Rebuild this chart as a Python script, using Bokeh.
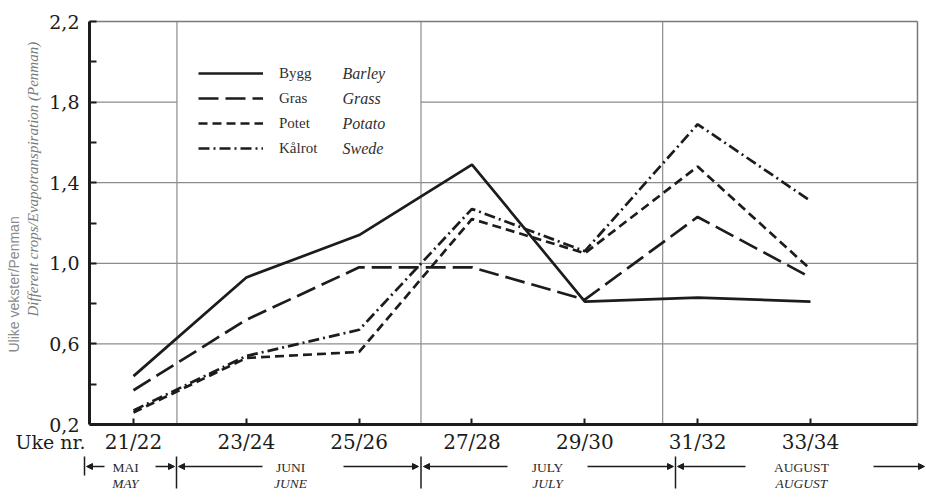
import numpy as np
from bokeh.plotting import figure
from bokeh.models import (Range1d, FixedTicker, Legend, LegendItem, Label, Arrow,
                          NormalHead, LinearAxis, CustomJSTickFormatter)
from bokeh.embed import file_html
from bokeh.resources import INLINE

# Two-week periods (week numbers) on the x axis
week_labels = ["21/22", "23/24", "25/26", "27/28", "29/30", "31/32", "33/34"]

# Crop evapotranspiration relative to Penman estimate
bygg   = [0.44, 0.93, 1.14, 1.49, 0.81, 0.83, 0.81]   # Barley
gras   = [0.37, 0.72, 0.98, 0.98, 0.82, 1.23, 0.93]   # Grass
potet  = [0.26, 0.53, 0.56, 1.22, 1.05, 1.48, 0.97]   # Potato
kalrot = [0.27, 0.54, 0.67, 1.27, 1.06, 1.69, 1.31]   # Swede

series_no = ["Bygg", "Gras", "Potet", "Kålrot"]
series_en = ["Barley", "Grass", "Potato", "Swede"]

y_ticks = [0.2, 0.6, 1.0, 1.4, 1.8, 2.2]
y_minor = [0.4, 0.8, 1.2, 1.6, 2.0]
y_grid = [0.6, 1.0, 1.4, 1.8]

# month boundaries expressed on the period axis
month_bounds = [0.385, 2.548, 4.69]
months_no = ["MAI", "JUNI", "JULY", "AUGUST"]
months_en = ["MAY", "JUNE", "JULY", "AUGUST"]

INK = "#1c1c1c"
GRID = "#8c8c8c"
W, H = 926, 498

# pixel -> data helpers (the frame spans the whole canvas; the chart box
# is 89..917 px wide and 21..424 px tall)
def fx(px):
    return (px - 133.0) / 112.83

def fy(py):
    return 0.2 + (424.0 - py) / 201.5

X_LO, X_HI = fx(89), fx(917)
Y_LO, Y_HI = 0.2, 2.2

x = list(range(len(week_labels)))

p = figure(width=W, height=H, output_backend="svg", toolbar_location=None,
           title=None, x_range=Range1d(fx(0), fx(W)), y_range=Range1d(fy(H), fy(0)),
           x_axis_location=None, y_axis_location=None, min_border=0,
           background_fill_color="white", border_fill_color="white",
           outline_line_color=None)
p.xgrid.visible = False
p.ygrid.visible = False

# left value axis
yax = LinearAxis(fixed_location=X_LO, bounds=(Y_LO, Y_HI),
                 ticker=FixedTicker(ticks=y_ticks, minor_ticks=y_minor),
                 formatter=CustomJSTickFormatter(code="return tick.toFixed(1).replace('.', ',')"))
yax.axis_line_width = 3
yax.axis_line_color = INK
yax.major_tick_in = 7
yax.major_tick_out = 0
yax.minor_tick_in = 7
yax.minor_tick_out = 0
yax.major_tick_line_width = 2
yax.minor_tick_line_width = 2
yax.major_tick_line_color = INK
yax.minor_tick_line_color = INK
yax.major_label_text_font = "DejaVu Serif"
yax.major_label_text_font_size = "19px"
yax.major_label_text_color = INK
yax.major_label_standoff = 10

# bottom period axis
xax = LinearAxis(fixed_location=Y_LO, bounds=(X_LO, X_HI),
                 ticker=FixedTicker(ticks=x, minor_ticks=[]))
xax.major_label_overrides = {i: lab for i, lab in enumerate(week_labels)}
xax.axis_line_width = 3
xax.axis_line_color = INK
xax.major_tick_in = 6
xax.major_tick_out = 0
xax.major_tick_line_width = 2
xax.major_tick_line_color = INK
xax.major_label_text_font = "DejaVu Serif"
xax.major_label_text_font_size = "20px"
xax.major_label_text_color = INK
xax.major_label_standoff = 5

# thin top and right border lines
def border_axis(loc, bounds):
    ax = LinearAxis(fixed_location=loc, bounds=bounds,
                    ticker=FixedTicker(ticks=[], minor_ticks=[]))
    ax.axis_line_color = "#7a7a7a"
    ax.axis_line_width = 1.5
    ax.major_tick_line_color = None
    ax.minor_tick_line_color = None
    ax.major_label_text_font_size = "0px"
    return ax

p.add_layout(border_axis(Y_HI, (X_LO, X_HI)), "above")
p.add_layout(border_axis(X_HI, (Y_LO, Y_HI)), "right")

# grid lines; the 1.8 line is left open behind the legend block
gx0, gx1, gy = [], [], []
for g in y_grid:
    if g == 1.8:
        gx0 += [X_LO, month_bounds[1]]
        gx1 += [month_bounds[0], X_HI]
        gy += [g, g]
    else:
        gx0.append(X_LO)
        gx1.append(X_HI)
        gy.append(g)
p.segment(x0=gx0, y0=gy, x1=gx1, y1=gy, line_color=GRID, line_width=1.2)
p.segment(x0=month_bounds, y0=[Y_LO] * 3, x1=month_bounds, y1=[Y_HI] * 3,
          line_color=GRID, line_width=1.2)

p.add_layout(yax, "left")
p.add_layout(xax, "below")

styles = [
    dict(data=bygg, dash="solid"),
    dict(data=gras, dash="20 7"),
    dict(data=potet, dash="9 5"),
    dict(data=kalrot, dash="11 4 2 4"),
]
renderers = []
for st in styles:
    r = p.line(x, st["data"], line_width=2.7, line_color=INK, line_dash=st["dash"])
    renderers.append(r)

legend = Legend(items=[LegendItem(label=n, renderers=[r]) for n, r in zip(series_no, renderers)],
                location=(188, 330), orientation="vertical",
                background_fill_alpha=0, border_line_alpha=0,
                label_text_font="Liberation Serif", label_text_font_size="15px",
                label_text_color="#303030", glyph_width=65, glyph_height=20,
                label_height=20, label_standoff=16, spacing=5, padding=10, margin=0)
p.add_layout(legend)

for i, name in enumerate(series_en):
    p.add_layout(Label(x=fx(342), y=fy(73 + 25 * i), text=name,
                       text_font="Liberation Serif", text_font_style="italic",
                       text_font_size="16px", text_color="#303030",
                       text_baseline="middle", text_align="left"))

# y axis titles (two languages)
p.add_layout(Label(x=fx(13), y=fy(352), text="Ulike vekster/Penman", angle=np.pi / 2,
                   text_font="Liberation Sans", text_font_size="14px",
                   text_color="#8a8a8a", text_align="left", text_baseline="middle"))
p.add_layout(Label(x=fx(32), y=fy(316), text="Different crops/Evapotranspiration (Penman)",
                   angle=np.pi / 2, text_font="Liberation Serif", text_font_style="italic",
                   text_font_size="15px", text_color="#7a7a7a",
                   text_align="left", text_baseline="middle"))

# x axis caption
p.add_layout(Label(x=fx(15), y=fy(441), text="Uke nr.", text_font="DejaVu Serif",
                   text_font_size="19px", text_color=INK, text_align="left",
                   text_baseline="middle"))

# month band under the axis
row_y = fy(466)
bar_top, bar_bot = fy(456), fy(488)
bars_px = [84, 176, 420.5, 675]
for i, bx in enumerate(bars_px):
    bot = fy(475) if i == 0 else bar_bot
    p.add_layout(Arrow(start=None, end=None, x_start=fx(bx), y_start=bar_top,
                       x_end=fx(bx), y_end=bot, line_color=INK, line_width=1.5))

head = dict(size=6, fill_color=INK, line_color=INK)
arrows_px = [(104, 86), (155, 174), (262, 178), (343, 418), (507, 423), (587, 673),
             (745, 677), (873, 924)]
for x0, x1 in arrows_px:
    p.add_layout(Arrow(end=NormalHead(**head), x_start=fx(x0), y_start=row_y,
                       x_end=fx(x1), y_end=row_y, line_color=INK, line_width=1.3))

month_centers_px = [125, 290, 547, 801]
for cx, mn, me in zip(month_centers_px, months_no, months_en):
    p.add_layout(Label(x=fx(cx), y=fy(467), text=mn, text_font="Liberation Serif",
                       text_font_size="13.5px", text_color="#2a2a2a",
                       text_align="center", text_baseline="middle"))
    p.add_layout(Label(x=fx(cx), y=fy(483), text=me, text_font="Liberation Serif",
                       text_font_style="italic", text_font_size="13.5px",
                       text_color="#2a2a2a", text_align="center", text_baseline="middle"))

open("out.html", "w").write(file_html(p, INLINE))
